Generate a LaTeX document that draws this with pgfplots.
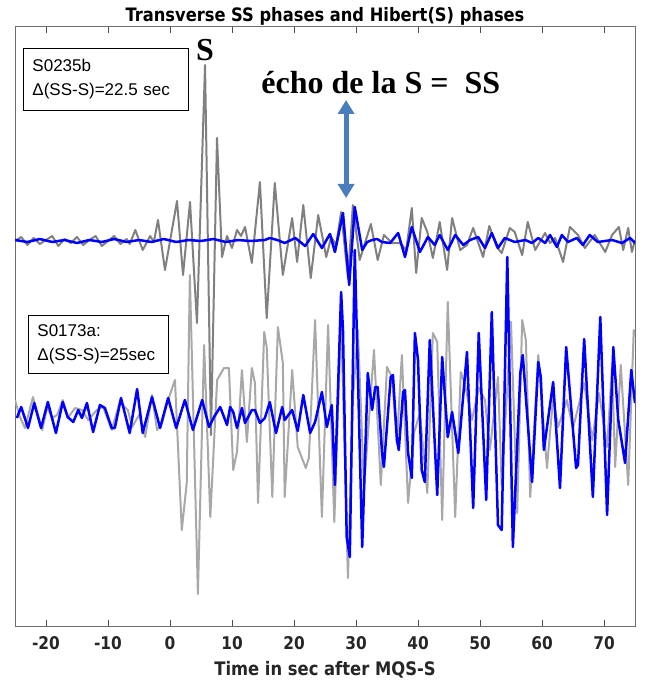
\documentclass[border=0pt]{standalone}
\usepackage{fontspec}
\setmainfont{Liberation Sans}
\newfontfamily\axfont{DejaVu Sans}[FakeStretch=0.88]
\newfontfamily\serifb{Liberation Serif}
\usepackage{pgfplots}
\pgfplotsset{compat=1.18}
\usetikzlibrary{arrows.meta}
\definecolor{ugray}{RGB}{128,128,128}
\definecolor{lgray}{RGB}{168,168,168}
\definecolor{arrowblue}{RGB}{74,126,187}
\definecolor{axgray}{RGB}{110,110,110}
\begin{document}
\begin{tikzpicture}
\begin{axis}[
  scale only axis, width=620pt, height=599pt,
  xmin=-25, xmax=75, ymin=27, ymax=626, y dir=reverse,
  xtick={-20,-10,0,10,20,30,40,50,60,70},
  xticklabels={-20,-10,0,10,20,30,40,50,60,70},
  ytick=\empty,
  tick align=inside, major tick length=6pt,
  xtick pos=both,
  axis line style={axgray, line width=1pt},
  tick style={black!70, line width=0.8pt},
  xticklabel style={font=\axfont\bfseries\fontsize{17.5}{17.5}\selectfont, text=black!85, yshift=-7pt},
  xlabel={Time in sec after MQS-S},
  xlabel style={at={(axis description cs:0.5,0)}, anchor=base, yshift=-49pt, font=\axfont\bfseries\fontsize{18.6}{18.6}\selectfont, text=black!85},
  title={Transverse SS phases and Hibert(S) phases},
  title style={at={(axis description cs:0.5,1)}, anchor=base, yshift=-1pt, font=\axfont\bfseries\fontsize{18.5}{18.5}\selectfont},
  clip=true,
]
% upper trace S0235b
\addplot[ugray, line width=2pt, line join=round] coordinates {
(-25,241)(-24,237)(-23,245)(-22,238)(-21,244)(-20,240)(-19,236)(-18,246)(-17,239)(-16,243)
(-15,237)(-14,245)(-13,240)(-12,236)(-11,246)(-10,241)(-9,236)(-8,244)(-7,239)(-6.5,244)
(-5.6,230)(-4.4,250)(-3.2,236)(-2.6,242)(-1.94,220)(-0.81,270)(1.13,201)(2.10,275)(3.23,202)
(4.35,323)(5.65,65)(6.61,435)(7.58,138)(8.39,257)(9.19,236)(10.0,248)(10.8,230)(11.45,236)
(12.1,227)(13.2,263)(14.5,182)(15.6,318)(16.9,183)(18.2,275)(19.7,218)(20.5,262)(21.5,205)
(22.7,278)(23.9,215)(25.2,257)(26.0,237)(26.8,245)(27.6,212)(28.7,278)(29.5,205)(30.6,260)
(32.4,224)(33.5,260)(34.5,235)(35.8,243)(37.1,243)(38.1,250)(39.0,208)(39.7,273)(40.6,218)
(41.5,232)(42.4,258)(43.5,222)(44.7,270)(45.5,218)(46.8,250)(47.9,245)(48.9,228)(50.5,257)
(51.5,226)(52.7,247)(53.5,253)(54.8,228)(55.6,232)(56.8,255)(57.7,222)(58.9,250)(60.5,233)
(61.3,243)(62.1,238)(63.4,262)(64.5,227)(65.8,235)(66.9,248)(68.5,235)(70.2,252)(71.3,235)
(72.4,227)(73.1,250)(73.9,228)(74.5,252)(75,240)
};
% lower trace S0173a
\addplot[lgray, line width=2pt, line join=round] coordinates {
(-25,400)(-24.2,417)(-23.4,428)(-22.1,397)(-20.6,430)(-19.8,407)(-19,418)(-18.2,415)(-17.3,400)
(-16.5,418)(-15.3,408)(-14.2,410)(-13.2,420)(-11.8,410)(-10.8,407)(-9.4,430)(-8.1,402)(-6.8,410)
(-6.1,427)(-5,415)(-4.0,437)(-2.9,395)(-2.1,430)(-1.3,423)(-0.3,400)(0.8,380)(1.9,530)(2.7,483)
(3.2,275)(4.5,594)(5.5,345)(6.5,517)(7.6,380)(8.7,368)(9.5,368)(10.2,470)(10.8,452)(11.6,370)
(12.4,442)(13.2,368)(13.7,383)(14.2,503)(15.2,332)(15.6,347)(16.5,497)(17.4,327)(18.2,363)
(18.5,497)(19.7,370)(20.6,447)(21.9,468)(22.4,458)(23.4,320)(24.5,517)(25.5,325)(26.5,522)
(27.6,320)(28.7,578)(29.5,400)(30.3,330)(31.3,488)(32.9,350)(34.0,485)(35.0,367)(35.8,377)
(36.6,442)(37.4,355)(38.4,503)(39.4,432)(40.3,413)(41.5,493)(42.4,333)(43.1,342)(43.9,520)
(44.8,302)(46.0,517)(46.9,372)(47.6,385)(48.7,420)(49.8,388)(50.8,400)(51.6,450)(52.9,377)
(53.5,485)(55.0,322)(56.0,513)(56.8,320)(57.4,340)(58.1,497)(59.4,355)(60.8,468)(61.8,397)
(62.6,427)(64.0,400)(65.0,428)(66.8,383)(68.1,440)(69.2,393)(70.5,447)(71.3,367)(71.8,467)
(72.7,365)(73.9,485)(74.8,330)(75,335)
};
% upper Hilbert
\addplot[blue, line width=2.5pt, line join=round] coordinates {
(-25,240)(-23,242)(-21,239)(-19,242)(-17,240)(-15,243)(-13,240)(-11,242)(-9,239)(-7,242)
(-5,240)(-3,242)(-1,239)(1,242)(3,240)(5,241)(7,239)(9,242)(11,240)(13,241)(15.3,240)
(16.1,238)(17.3,240)(18.5,243)(20.2,238)(21.8,246)(23.1,234)(24.5,248)(25.8,234)(26.6,252)
(27.9,213)(28.9,285)(29.8,207)(31.0,250)(31.8,242)(32.6,240)(33.4,239)(34.2,242)(35.5,243)
(36.8,233)(37.9,257)(39.0,227)(40.3,252)(41.6,237)(42.7,245)(43.5,235)(44.8,250)(46.0,235)
(47.3,245)(48.4,240)(49.7,237)(50.8,248)(51.9,233)(52.9,248)(54.0,238)(55.6,242)(57.3,240)
(58.4,243)(59.4,238)(60.5,243)(61.3,235)(62.4,247)(63.2,235)(64.2,242)(65.6,238)(66.6,245)
(67.7,235)(69.0,242)(71.3,240)(72.9,243)(74.2,238)(75,243)
};
% lower Hilbert
\addplot[blue, line width=2.5pt, line join=round] coordinates {
(-24.7,418)(-24.0,407)(-22.9,428)(-21.9,403)(-20.8,428)(-19.7,402)(-18.4,433)(-17.3,402)
(-16.5,417)(-15.6,422)(-14.8,410)(-14.2,418)(-13.4,403)(-12.4,432)(-11.3,405)(-10.5,408)
(-9.4,428)(-8.9,428)(-7.9,398)(-6.5,433)(-5.3,389)(-4.4,433)(-2.9,397)(-1.6,428)(-0.3,398)
(1.0,428)(2.4,400)(3.7,430)(5.2,400)(6.3,427)(7.1,417)(8.1,407)(9.2,425)(9.7,407)(10.2,412)
(10.8,428)(11.6,408)(12.1,423)(13.2,410)(13.7,410)(14.5,423)(15.3,418)(16.1,402)(17.1,433)
(18.1,407)(18.5,420)(19.7,410)(20.6,431)(21.5,395)(22.6,433)(23.4,422)(24.5,392)(25.3,427)
(26.1,405)(26.6,485)(27.6,292)(27.9,330)(28.5,537)(29.0,557)(29.8,250)(31.0,547)(31.9,373)
(32.6,410)(33.1,387)(33.5,387)(34.2,453)(34.5,467)(35.6,377)(35.96,375)(36.6,440)(36.9,450)
(37.6,392)(37.9,390)(38.4,453)(39.0,478)(39.5,333)(40.0,360)(40.6,470)(41.1,482)(41.9,340)
(43.1,495)(43.9,357)(44.8,437)(45.5,412)(46.5,453)(47.9,352)(48.9,508)(49.8,333)(51.0,500)
(51.9,312)(52.9,525)(53.5,530)(54.4,257)(55.3,547)(56.5,373)(56.9,355)(58.4,482)(59.4,362)
(59.8,377)(60.3,450)(61.8,382)(62.9,488)(63.9,347)(65.5,468)(65.8,465)(66.8,339)(68.2,497)
(69.4,317)(70.5,515)(71.5,347)(72.3,420)(73.4,463)(74.4,370)(75,403)
};
% annotations
\node[draw=black, line width=0.8pt, fill=white, anchor=north west, align=left,
  inner xsep=9pt, inner ysep=0pt, text width=147pt, minimum height=62pt,
  font=\fontsize{17}{24}\selectfont] at (axis cs:-23.7,48) {S0235b\\Δ(SS-S)=22.5 sec};
\node[draw=black, line width=0.8pt, fill=white, anchor=north west, align=left,
  inner xsep=9pt, inner ysep=0pt, text width=122pt, minimum height=58pt,
  font=\fontsize{17}{24}\selectfont] at (axis cs:-22.9,315) {S0173a:\\Δ(SS-S)=25sec};
\node[font=\serifb\bfseries\fontsize{32}{32}\selectfont, inner sep=0pt] at (axis cs:5.65,50) {S};
\node[font=\serifb\bfseries\fontsize{32}{32}\selectfont, inner sep=0pt] at (axis cs:34.0,83) {écho de la S =\enspace SS};
\draw[arrowblue, line width=5pt, {Triangle[width=16pt,length=14pt]}-{Triangle[width=16pt,length=14pt]}]
  (axis cs:28.4,100) -- (axis cs:28.4,198);
\end{axis}
\pgfresetboundingbox
\path ([shift={(-15pt,-58pt)}]current axis.south west) rectangle ([shift={(9pt,27pt)}]current axis.north east);
\end{tikzpicture}
\end{document}
